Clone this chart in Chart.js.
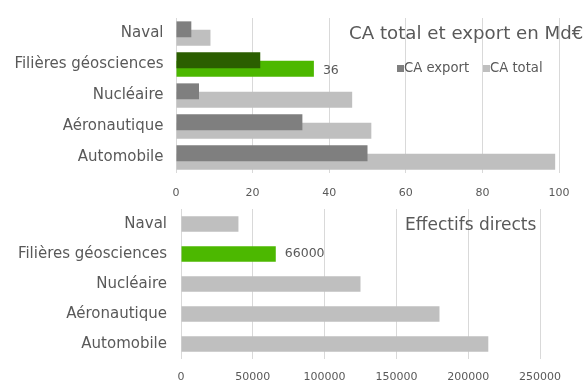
<!DOCTYPE html>
<html>
<head>
<meta charset="utf-8">
<script src="https://cdn.jsdelivr.net/npm/chart.js@4.4.1/dist/chart.umd.min.js"></script>
<style>
  body { margin: 0; background: #fff; width: 586px; height: 387px; overflow: hidden; position: relative;
         font-family: "DejaVu Sans", sans-serif; color: #595959; }
  .box { position: absolute; left: 0; width: 586px; }
  .txt { position: absolute; white-space: nowrap; line-height: 20px; }
  .sq { position: absolute; width: 6px; height: 6px; }
</style>
</head>
<body>
<div class="box" style="top:0;height:200px"><canvas id="caChart" width="586" height="200"></canvas></div>
<div class="box" style="top:200px;height:187px"><canvas id="effChart" width="586" height="187"></canvas></div>
<div class="txt" id="caTitle" style="left:349px;top:23px;font-size:18.2px"></div>
<div id="caLegend"></div>
<div class="txt" id="effTitle" style="left:405px;top:214px;font-size:17px"></div>

<script>
// categories (top to bottom)
var secteurs = ['Naval', 'Filières géosciences', 'Nucléaire', 'Aéronautique', 'Automobile'];
// CA in Md€
var caExport = [4, 22, 6, 33, 50];
var caTotal = [9, 36, 46, 51, 99];
var caTicks = [0, 20, 40, 60, 80, 100];
// effectifs directs
var effectifs = [40000, 66000, 125000, 180000, 214000];
var effTicks = [0, 50000, 100000, 150000, 200000, 250000];

var caTitleText = 'CA total et export en Md€';
var effTitleText = 'Effectifs directs';
var highlight = 1; // Filières géosciences

var grey = '#595959';

function colours(base, hl) {
  return secteurs.map(function (s, i) { return i === highlight ? hl : base; });
}

// prints the value next to the highlighted bar
var valueLabel = {
  id: 'valueLabel',
  afterDatasetsDraw: function (chart, args, opts) {
    var meta = chart.getDatasetMeta(opts.dataset);
    var bar = meta.data[highlight];
    var v = chart.data.datasets[opts.dataset].data[highlight];
    var ctx = chart.ctx;
    ctx.save();
    ctx.font = '12.5px "DejaVu Sans"';
    ctx.fillStyle = grey;
    ctx.textBaseline = 'middle';
    ctx.fillText(String(v), bar.x + 9, bar.y + opts.dy);
    ctx.restore();
  }
};

function scales(ticks, yWidth, xHeight, labelPad, tickPad) {
  return {
    x: {
      min: ticks[0], max: ticks[ticks.length - 1],
      afterBuildTicks: function (s) { s.ticks = ticks.map(function (t) { return { value: t }; }); },
      afterFit: function (s) { s.height = xHeight; },
      grid: { color: '#d9d9d9', drawTicks: false },
      border: { display: false },
      ticks: { color: grey, font: { family: 'DejaVu Sans', size: 11 }, padding: tickPad, maxRotation: 0,
               callback: function (v) { return String(v); } }
    },
    y: {
      afterFit: function (s) { s.width = yWidth; s.paddingTop = 0; s.paddingBottom = 0; },
      grid: { display: false, drawTicks: false },
      border: { display: false },
      ticks: { color: grey, font: { family: 'DejaVu Sans', size: 15 }, padding: labelPad }
    }
  };
}

new Chart(document.getElementById('caChart'), {
  type: 'bar',
  data: {
    labels: secteurs,
    datasets: [
      { label: 'CA export', data: caExport, backgroundColor: colours('#7f7f7f', '#2b5e00'),
        barPercentage: 1.9, categoryPercentage: 0.54 },
      { label: 'CA total', data: caTotal, backgroundColor: colours('#bfbfbf', '#4cb800'),
        barPercentage: 1.9, categoryPercentage: 0.54 }
    ]
  },
  options: {
    indexAxis: 'y',
    responsive: false,
    animation: false,
    layout: { padding: { top: 18, right: 27, left: 0, bottom: 0 } },
    scales: scales(caTicks, 176, 27, 12.5, 14),
    plugins: { legend: { display: false }, tooltip: { enabled: false }, valueLabel: { dataset: 1, dy: 2 } }
  },
  plugins: [valueLabel]
});

new Chart(document.getElementById('effChart'), {
  type: 'bar',
  data: {
    labels: secteurs,
    datasets: [
      { label: 'Effectifs directs', data: effectifs, backgroundColor: colours('#bfbfbf', '#4cb800'),
        barPercentage: 1, categoryPercentage: 0.52 }
    ]
  },
  options: {
    indexAxis: 'y',
    responsive: false,
    animation: false,
    layout: { padding: { top: 9, right: 46, left: 0, bottom: 0 } },
    scales: scales(effTicks, 181, 28, 14, 12),
    plugins: { legend: { display: false }, tooltip: { enabled: false }, valueLabel: { dataset: 0, dy: 0 } }
  },
  plugins: [valueLabel]
});

document.getElementById('caTitle').textContent = caTitleText;
document.getElementById('effTitle').textContent = effTitleText;

// legend entries: name, colour, left edge of the marker
var legendNames = ['CA export', 'CA total'];
var legendColours = ['#7f7f7f', '#bfbfbf'];
var legendX = [397, 483];
var legendHtml = legendNames.map(function (name, i) {
  return '<div class="sq" style="left:' + legendX[i] + 'px;top:65px;width:7px;height:7px;background:' + legendColours[i] + '"></div>' +
         '<div class="txt" style="left:' + (legendX[i] + 7) + 'px;top:58px;font-size:13.2px">' + name + '</div>';
}).join('');
document.getElementById('caLegend').innerHTML = legendHtml;
</script>
</body>
</html>
